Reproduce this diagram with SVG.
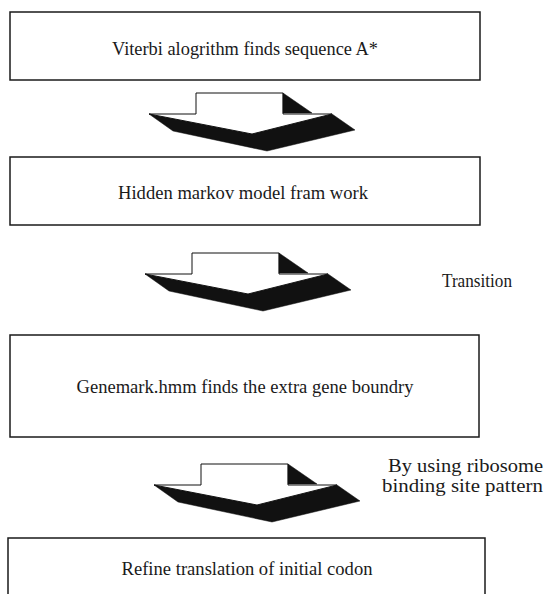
<svg xmlns="http://www.w3.org/2000/svg" xmlns:xlink="http://www.w3.org/1999/xlink" width="547" height="594" viewBox="0 0 547 594">
<style>
.box{fill:#fff;stroke:#1a1a1a;stroke-width:1.5}
.t{font-family:"Liberation Serif","Times New Roman",serif;font-size:18.5px;fill:#1a1a1a}
.face{fill:#fff;stroke:#111;stroke-width:1}
.shade{fill:#111;stroke:#111;stroke-width:0.5}
</style>
<defs>
<g id="arrow">
<polygon class="shade" points="149,114 252,134 332,114 355,130 267,151 173,131"/>
<polygon class="face" points="196,93 283,93 283,114 332,114 252,134 149,114 196,114"/>
<polygon class="shade" points="283,93 312,113 283,113"/>
</g>
</defs>
<rect width="547" height="594" fill="#fff"/>
<g id="connectors">
<use id="arrow1" xlink:href="#arrow"/>
<use id="arrow2" xlink:href="#arrow" transform="translate(-4,160)"/>
<use id="arrow3" xlink:href="#arrow" transform="translate(5,371)"/>
</g>
<g id="node1">
<rect class="box" x="10" y="12" width="470" height="68"/>
<text class="t" x="245" y="55" text-anchor="middle" textLength="266" lengthAdjust="spacingAndGlyphs">Viterbi alogrithm finds sequence A*</text>
</g>
<g id="node2">
<rect class="box" x="10" y="157" width="470" height="68"/>
<text class="t" x="243" y="199" text-anchor="middle" textLength="250" lengthAdjust="spacingAndGlyphs">Hidden markov model fram work</text>
</g>
<g id="node3">
<rect class="box" x="10" y="335" width="469" height="102"/>
<text class="t" x="245" y="393" text-anchor="middle" textLength="337" lengthAdjust="spacingAndGlyphs">Genemark.hmm finds the extra gene boundry</text>
</g>
<g id="node4">
<rect class="box" x="8" y="538" width="477" height="70"/>
<text class="t" x="247" y="575" text-anchor="middle" textLength="251" lengthAdjust="spacingAndGlyphs">Refine translation of initial codon</text>
</g>
<g id="labels">
<text class="t" x="442" y="287" textLength="70" lengthAdjust="spacingAndGlyphs">Transition</text>
<text class="t" x="388" y="472" textLength="155" lengthAdjust="spacingAndGlyphs">By using ribosome</text>
<text class="t" x="382" y="492" textLength="161" lengthAdjust="spacingAndGlyphs">binding site pattern</text>
</g>
</svg>
